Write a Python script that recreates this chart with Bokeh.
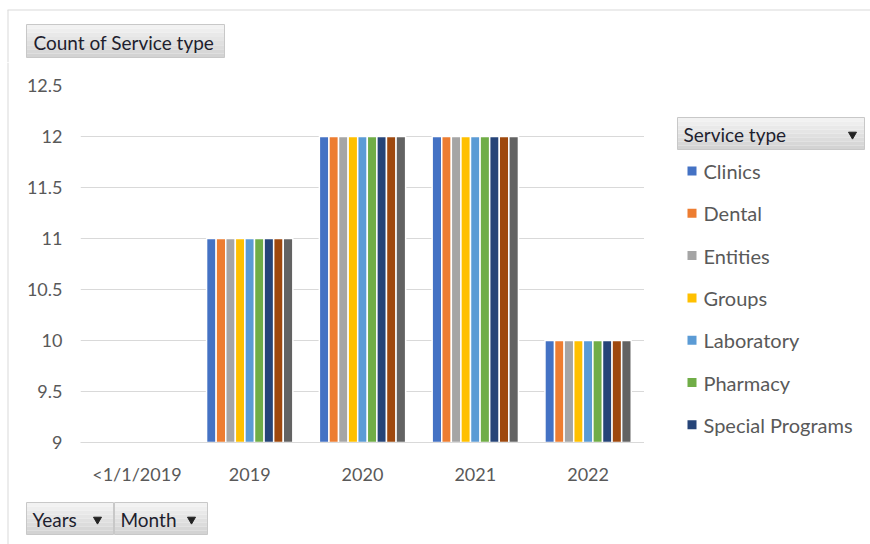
from bokeh.plotting import figure
from bokeh.models import FactorRange, Range1d, ColumnDataSource
from bokeh.layouts import row, column
from bokeh.transform import dodge
from bokeh.core.properties import value
from bokeh.embed import file_html
from bokeh.resources import INLINE

NaN = float("nan")

categories = ["<1/1/2019", "2019", "2020", "2021", "2022"]
series_names = ["Clinics", "Dental", "Entities", "Groups", "Laboratory",
                "Pharmacy", "Special Programs", "Series 8", "Series 9"]
clinics = [NaN, 11, 12, 12, 10]
dental = [NaN, 11, 12, 12, 10]
entities = [NaN, 11, 12, 12, 10]
groups = [NaN, 11, 12, 12, 10]
laboratory = [NaN, 11, 12, 12, 10]
pharmacy = [NaN, 11, 12, 12, 10]
special_programs = [NaN, 11, 12, 12, 10]
series_8 = [NaN, 11, 12, 12, 10]
series_9 = [NaN, 11, 12, 12, 10]
series_values = [clinics, dental, entities, groups, laboratory, pharmacy,
                 special_programs, series_8, series_9]
colors = ["#4472C4", "#ED7D31", "#A5A5A5", "#FFC000", "#5B9BD5",
          "#70AD47", "#264478", "#9E480E", "#636363"]
legend_count = 7
y_ticks = [9, 9.5, 10, 10.5, 11, 11.5, 12, 12.5]

FONT = "Lato"
TXT = "#595959"
BTN_TXT = "#1e1e2e"
LINE = "#d9d9d9"

W, H = 870, 544
TOP_H = 62          # height of top strip
LEFT_W = 23         # width of left strip
FL, FR, FT, FB = 78, 644, 85, 442  # plot frame edges (canvas px)
MAIN_BOTTOM = 495   # bottom of main figure (canvas px)


def deco(x0, x1, y0, y1):
    f = figure(width=x1 - x0, height=y1 - y0, x_range=Range1d(x0, x1),
               y_range=Range1d(y1, y0), min_border=0, toolbar_location=None,
               output_backend="svg", x_axis_location=None, y_axis_location=None)
    f.grid.visible = False
    f.outline_line_color = None
    f.background_fill_color = "white"
    f.border_fill_color = "white"
    f.frame_align = False
    return f


def button(f, x0, y0, x1, y1, text, tx, tri=None, size="19px"):
    n = 8
    c0, c1 = (0xf2, 0xf2, 0xf2), (0xd3, 0xd3, 0xd3)
    h = (y1 - y0) / n
    for k in range(n):
        t = k / (n - 1)
        c = "#%02x%02x%02x" % tuple(int(round(a + (b - a) * t)) for a, b in zip(c0, c1))
        f.quad(left=x0, right=x1, top=y0 + k * h, bottom=y0 + (k + 1) * h,
               fill_color=c, line_color=None)
    f.quad(left=x0, right=x1, top=y0, bottom=y1, fill_color=None,
           line_color="#c8c8c8", line_width=1)
    f.text(x=[tx], y=[(y0 + y1) / 2 + 1], text=[text], text_font=value(FONT),
           text_font_size=value(size), text_color=BTN_TXT, text_baseline="middle",
           text_align="left")
    if tri is not None:
        f.scatter(x=[tri], y=[(y0 + y1) / 2 + 1], marker="inverted_triangle", size=8,
                  fill_color="#222222", line_color="#222222")


# ---- top strip ----
top = deco(0, W, 0, TOP_H)
top.segment(x0=[7], y0=[9.5], x1=[W], y1=[9.5], line_color=LINE, line_width=1)
top.segment(x0=[7.5], y0=[9.5], x1=[7.5], y1=[TOP_H], line_color=LINE, line_width=1)
button(top, 26, 24, 224, 57, "Count of Service type", 33)

# ---- left strip ----
left = deco(0, LEFT_W, TOP_H, H)
left.segment(x0=[7.5], y0=[TOP_H], x1=[7.5], y1=[H], line_color=LINE, line_width=1)

# ---- main chart ----
p = figure(width=FR - LEFT_W, height=MAIN_BOTTOM - TOP_H,
           x_range=FactorRange(*categories, range_padding=0),
           y_range=Range1d(9, 12.5), output_backend="svg", toolbar_location=None,
           min_border_left=FL - LEFT_W, min_border_right=0,
           min_border_top=FT - TOP_H, min_border_bottom=MAIN_BOTTOM - FB)
p.frame_align = False
p.outline_line_color = None
p.background_fill_color = "white"
p.border_fill_color = "white"

src = ColumnDataSource(dict(cat=categories, **{f"s{i}": v for i, v in enumerate(series_values)}))
bw = 0.085
for i, col in enumerate(colors):
    off = (i - (len(colors) - 1) / 2) * bw
    p.vbar(x=dodge("cat", off, range=p.x_range), top=f"s{i}", bottom=9, width=bw,
           source=src, fill_color=col, line_color="white", line_width=1.5)

p.xgrid.grid_line_color = None
p.ygrid.grid_line_color = LINE
p.yaxis.ticker = y_ticks
p.yaxis.axis_line_color = None
p.yaxis.major_tick_line_color = None
p.yaxis.minor_tick_line_color = None
p.yaxis.major_tick_out = 0
p.yaxis.major_label_standoff = 18
p.xaxis.axis_line_color = LINE
p.xaxis.major_tick_line_color = None
p.xaxis.major_tick_out = 0
p.xaxis.major_label_standoff = 20
for ax in (p.xaxis[0], p.yaxis[0]):
    ax.major_label_text_font = FONT
    ax.major_label_text_font_size = "18px"
    ax.major_label_text_color = TXT

# ---- legend panel ----
lg = deco(FR, W, TOP_H, MAIN_BOTTOM)
button(lg, 677, 117, 864, 149, "Service type", 683, tri=852)
leg_src = ColumnDataSource(dict(
    name=series_names[:legend_count], color=colors[:legend_count],
    y=[170.5 + 42.3 * i for i in range(legend_count)]))
lg.rect(x=691.5, y="y", width=9, height=9, fill_color="color", line_color=None,
        source=leg_src)
lg.text(x=703, y="y", text="name", text_font=value(FONT), text_font_size=value("20px"),
        text_color=TXT, text_baseline="middle", source=leg_src)

# ---- bottom strip ----
bot = deco(LEFT_W, W, MAIN_BOTTOM, H)
button(bot, 26, 502, 113, 534, "Years", 32, tri=97)
button(bot, 114, 502, 207, 534, "Month", 120, tri=191)

layout = column(top, row(left, column(row(p, lg), bot)))
open("out.html", "w").write(file_html(layout, INLINE))
